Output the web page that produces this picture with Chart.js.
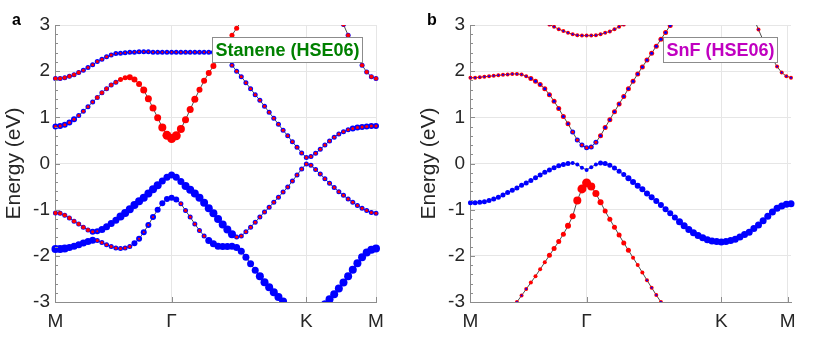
<!DOCTYPE html>
<html lang="en">
<head>
<meta charset="UTF-8">
<title>Stanene / SnF band structures (HSE06)</title>
<script src="https://cdn.jsdelivr.net/npm/chart.js"></script>
<style>
  body { margin: 0; background: #fff; }
  #wrap { display: flex; width: 830px; height: 340px; }
  canvas { display: block; }
</style>
</head>
<body>
<div id="wrap">
  <canvas id="panelA" width="415" height="340"></canvas>
  <canvas id="panelB" width="415" height="340"></canvas>
</div>
<script>
// k-path: 70 points, M(0) - Gamma(25) - K(54) - M(69)
const kLabels = ["M", "Γ", "K", "M"];
const kTicksA = [0, 25, 54, 69];
const kTicksB = [0, 25, 54, 68.3];

// ---- panel a: Stanene, band energies (eV) ----
const aBand1 = [
  0.80, 0.81, 0.84, 0.89, 0.96, 1.04, 1.13, 1.23, 1.33, 1.43,
  1.53, 1.62, 1.70, 1.76, 1.82, 1.86, 1.87, 1.82, 1.72, 1.59,
  1.40, 1.20, 0.99, 0.78, 0.61, 0.54, 0.60, 0.75, 0.95, 1.17,
  1.39, 1.60, 1.79, 1.96, 2.11, 2.27, 2.38, 2.26, 2.13, 2.00,
  1.88, 1.75, 1.62, 1.49, 1.37, 1.24, 1.11, 0.98, 0.85, 0.72,
  0.60, 0.47, 0.35, 0.23, 0.13, 0.15, 0.22, 0.31, 0.40, 0.49,
  0.57, 0.64, 0.69, 0.73, 0.76, 0.78, 0.79, 0.80, 0.81, 0.81
];
const aBand2 = [
  1.84, 1.84, 1.86, 1.89, 1.92, 1.97, 2.02, 2.08, 2.14, 2.21,
  2.26, 2.31, 2.35, 2.38, 2.39, 2.40, 2.41, 2.41, 2.42, 2.42,
  2.42, 2.41, 2.41, 2.41, 2.41, 2.41, 2.41, 2.41, 2.41, 2.41,
  2.41, 2.41, 2.41, 2.41, 2.41, 2.40, 2.45, 2.62, 2.78, 2.93,
  3.08, 3.22, null, null, null, null, null, null, null, null,
  null, null, null, null, null, null, null, null, null, null,
  null, null, null, null, null, null, null, null, null, null
];
const aBand3 = [
  null, null, null, null, null, null, null, null, null, null,
  null, null, null, null, null, null, null, null, null, null,
  null, null, null, null, null, null, null, null, null, null,
  null, null, null, null, null, null, null, null, null, null,
  null, null, null, null, null, null, null, null, null, null,
  null, null, null, null, null, null, null, null, null, null,
  null, 3.22, 3.01, 2.78, 2.55, 2.33, 2.13, 1.98, 1.88, 1.84
];
const aBand4 = [
  -1.07, -1.08, -1.12, -1.18, -1.25, -1.31, -1.38, -1.44, -1.48, -1.47,
  -1.43, -1.37, -1.30, -1.23, -1.15, -1.07, -0.99, -0.90, -0.82, -0.74,
  -0.65, -0.56, -0.47, -0.38, -0.30, -0.25, -0.30, -0.39, -0.49, -0.57,
  -0.65, -0.74, -0.85, -0.97, -1.08, -1.20, -1.32, -1.43, -1.53, -1.59,
  -1.57, -1.48, -1.38, -1.27, -1.16, -1.05, -0.95, -0.84, -0.73, -0.62,
  -0.51, -0.38, -0.25, -0.12, -0.01, -0.04, -0.13, -0.23, -0.33, -0.43,
  -0.52, -0.61, -0.69, -0.77, -0.84, -0.91, -0.97, -1.02, -1.06, -1.08
];
const aBand5 = [
  -1.85, -1.85, -1.84, -1.82, -1.79, -1.76, -1.72, -1.69, -1.66, -1.67,
  -1.71, -1.76, -1.80, -1.83, -1.84, -1.83, -1.80, -1.73, -1.63, -1.49,
  -1.33, -1.16, -1.00, -0.86, -0.77, -0.74, -0.78, -0.87, -1.02, -1.16,
  -1.31, -1.45, -1.57, -1.67, -1.74, -1.79, -1.80, -1.80, -1.79, -1.82,
  -1.90, -2.03, -2.17, -2.31, -2.44, -2.57, -2.68, -2.79, -2.89, -2.99,
  -3.09, -3.19, null, null, null, null, null, -3.16, -3.05, -2.94,
  -2.83, -2.71, -2.58, -2.44, -2.30, -2.16, -2.03, -1.93, -1.87, -1.84
];
// orbital weights per k-point (0-9): red = s-like, blue = p-like
const aBand1Red  = "3333333334" + "4444556667" + "7778999877" + "7666665333" + "3333333333" + "3333333333" + "3333333333";
const aBand1Blue = "6666655555" + "5555000000" + "0000000000" + "0000005555" + "5555555555" + "5555555555" + "5555666666";
const aBand2Red  = "4444443333" + "3332222222" + "2222222222" + "2222225555" + "5500000000" + "0000000000" + "0000000000";
const aBand2Blue = "5555555555" + "5555555555" + "5555555555" + "5555550000" + "0000000000" + "0000000000" + "0000000000";
const aBand3Red  = "0000000000" + "0000000000" + "0000000000" + "0000000000" + "0000000000" + "0000000000" + "0444444444";
const aBand3Blue = "0000000000" + "0000000000" + "0000000000" + "0000000000" + "0000000000" + "0000000000" + "0555555555";
const aBand4Red  = "4444444432" + "0000000000" + "0000000000" + "0000000003" + "3333333333" + "3333333333" + "3333333333";
const aBand4Blue = "5555555566" + "7777888888" + "8887777788" + "8888888885" + "5555555555" + "5555555555" + "5555555555";
const aBand5Red  = "0000000003" + "3333333022" + "2200000333" + "3330000000" + "0000000000" + "0000000000" + "0000000000";
const aBand5Blue = "8887777775" + "5555555666" + "6666666555" + "5557777777" + "7777888888" + "8800000888" + "8888888888";

// ---- panel b: SnF, band energies (eV) ----
const bBand1 = [
  null, null, null, null, null, null, null, null, null, null,
  null, null, null, null, null, null, 3.07, 3.01, 2.96, 2.91,
  2.87, 2.83, 2.80, 2.78, 2.77, 2.77, 2.77, 2.78, 2.80, 2.83,
  2.86, 2.91, 2.96, 3.01, 3.07, null, null, null, null, null,
  null, null, null, null, null, null, null, null, null, null,
  null, null, null, null, null, null, null, null, null, null,
  null, null, null, null, null, null, null, null, null, null
];
const bBand2 = [
  1.86, 1.86, 1.87, 1.88, 1.89, 1.90, 1.91, 1.92, 1.93, 1.94,
  1.94, 1.93, 1.89, 1.84, 1.78, 1.71, 1.62, 1.49, 1.35, 1.19,
  1.02, 0.86, 0.68, 0.51, 0.40, 0.34, 0.36, 0.46, 0.60, 0.78,
  0.95, 1.12, 1.29, 1.45, 1.62, 1.78, 1.94, 2.09, 2.24, 2.39,
  2.54, 2.69, 2.84, 2.99, 3.14, null, null, null, null, null,
  null, null, null, null, null, null, null, null, null, null,
  null, null, null, null, null, null, null, null, null, null
];
const bBand3 = [
  null, null, null, null, null, null, null, null, null, null,
  null, null, null, null, null, null, null, null, null, null,
  null, null, null, null, null, null, null, null, null, null,
  null, null, null, null, null, null, null, null, null, null,
  null, null, null, null, null, null, null, null, null, null,
  null, null, null, null, null, null, null, null, null, null,
  null, 3.14, 2.90, 2.67, 2.46, 2.27, 2.10, 1.97, 1.89, 1.86
];
const bBand4 = [
  -0.85, -0.85, -0.84, -0.83, -0.80, -0.77, -0.73, -0.68, -0.63, -0.58,
  -0.53, -0.47, -0.42, -0.37, -0.31, -0.25, -0.19, -0.14, -0.09, -0.05,
  -0.02, 0.00, 0.01, -0.02, -0.09, -0.14, -0.08, -0.02, 0.01, 0.00,
  -0.04, -0.10, -0.17, -0.24, -0.32, -0.40, -0.48, -0.56, -0.65, -0.73,
  -0.81, -0.90, -0.99, -1.08, -1.17, -1.26, -1.35, -1.43, -1.50, -1.56,
  -1.61, -1.65, -1.68, -1.69, -1.70, -1.69, -1.67, -1.64, -1.59, -1.54,
  -1.49, -1.41, -1.33, -1.24, -1.14, -1.05, -0.97, -0.92, -0.88, -0.87
];
const bBand5 = [
  null, null, null, null, null, null, null, null, null, -3.15,
  -3.00, -2.86, -2.72, -2.58, -2.44, -2.29, -2.14, -1.99, -1.84, -1.69,
  -1.53, -1.35, -1.14, -0.80, -0.55, -0.42, -0.50, -0.65, -0.84, -1.03,
  -1.21, -1.38, -1.55, -1.72, -1.88, -2.04, -2.20, -2.36, -2.53, -2.69,
  -2.85, -3.00, -3.16, null, null, null, null, null, null, null,
  null, null, null, null, null, null, null, null, null, null,
  null, null, null, null, null, null, null, null, null, null
];
const bBand1Red  = "0000000000" + "0000004444" + "4444444444" + "4444400000" + "0000000000" + "0000000000" + "0000000000";
const bBand1Blue = "0000000000" + "0000002222" + "2222222222" + "2222200000" + "0000000000" + "0000000000" + "0000000000";
const bBand2Red  = "4444444444" + "4445555555" + "5533333355" + "5555555555" + "5555500000" + "0000000000" + "0000000000";
const bBand2Blue = "2222222222" + "2223333333" + "3355555533" + "3333333333" + "3333300000" + "0000000000" + "0000000000";
const bBand3Red  = "0000000000" + "0000000000" + "0000000000" + "0000000000" + "0000000000" + "0000000000" + "0444444444";
const bBand3Blue = "0000000000" + "0000000000" + "0000000000" + "0000000000" + "0000000000" + "0000000000" + "0222222222";
const bBand4Red  = "0000000000" + "0000000000" + "0000000000" + "0000000000" + "0000000000" + "0000000000" + "0000000000";
const bBand4Blue = "5555555555" + "5555555555" + "5544444455" + "5555666666" + "6666677777" + "7777777777" + "7777777777";
const bBand5Red  = "0000000004" + "4444444555" + "5668998765" + "5555544444" + "4440000000" + "0000000000" + "0000000000";
const bBand5Blue = "0000000002" + "2220000000" + "0000000000" + "0000000022" + "2220000000" + "0000000000" + "0000000000";

const RED = "#ff0000";
const BLUE = "#0000ff";
const AXIS = "#8c8c8c";
const GRID = "#e6e6e6";
const TEXT = "#262626";
const FONT = "'Liberation Sans', Arial, Helvetica, sans-serif";
Chart.defaults.font.family = FONT;

const isWhole = v => Math.abs(v - Math.round(v)) < 1e-6;
const clipBox = { left: 6, right: 6, top: 0, bottom: 0 };

// one band -> black line + two dot layers (bigger weight underneath)
function bandDatasets(values, redW, blueW) {
  const pts = values.map((v, i) => ({ x: i, y: v }));
  const outerR = [], outerC = [], innerR = [], innerC = [];
  values.forEach((v, i) => {
    const r = Number(redW[i]) * 0.5;
    const b = Number(blueW[i]) * 0.5;
    if (r > b) {
      outerR.push(r); outerC.push(RED); innerR.push(b); innerC.push(BLUE);
    } else {
      outerR.push(b); outerC.push(BLUE); innerR.push(r); innerC.push(RED);
    }
  });
  return [
    { data: pts, showLine: true, borderColor: "rgba(35,35,35,0.9)", borderWidth: 0.9,
      pointRadius: 0, order: 3, clip: clipBox },
    { data: pts, pointRadius: outerR, pointHoverRadius: outerR, pointBackgroundColor: outerC,
      pointBorderWidth: 0, order: 2, clip: clipBox },
    { data: pts, pointRadius: innerR, pointHoverRadius: innerR, pointBackgroundColor: innerC,
      pointBorderWidth: 0, order: 1, clip: clipBox }
  ];
}

const panelDecor = {
  id: "panelDecor",
  afterDatasetsDraw(chart, args, opts) {
    const { ctx, chartArea: a, scales } = chart;
    ctx.save();
    ctx.strokeStyle = AXIS;
    ctx.lineWidth = 1;
    // inward ticks
    scales.y.ticks.forEach(t => {
      const y = Math.round(scales.y.getPixelForValue(t.value)) + 0.5;
      const len = isWhole(t.value) ? 5 : 3;
      ctx.beginPath();
      ctx.moveTo(a.left, y);
      ctx.lineTo(a.left + len, y);
      ctx.stroke();
    });
    scales.x.ticks.forEach(t => {
      const x = Math.round(scales.x.getPixelForValue(t.value)) + 0.5;
      ctx.beginPath();
      ctx.moveTo(x, a.bottom);
      ctx.lineTo(x, a.bottom - 5);
      ctx.stroke();
    });
    // label box
    ctx.font = "bold 18px " + FONT;
    const w = Math.round(ctx.measureText(opts.label).width + 6);
    const h = 25;
    const x0 = opts.boxRight - w + 0.5;
    const y0 = 37.5;
    ctx.fillStyle = "#fff";
    ctx.fillRect(x0, y0, w, h);
    ctx.strokeStyle = AXIS;
    ctx.strokeRect(x0, y0, w, h);
    ctx.fillStyle = opts.color;
    ctx.textAlign = "center";
    ctx.textBaseline = "middle";
    ctx.fillText(opts.label, x0 + w / 2, y0 + h / 2 + 1);
    // panel letter
    ctx.font = "bold 16px " + FONT;
    ctx.fillStyle = "#000";
    ctx.textAlign = "left";
    ctx.textBaseline = "alphabetic";
    ctx.fillText(opts.letter, 12, 25);
    ctx.restore();
  }
};

function makePanel(id, bands, kTicks, decor) {
  const datasets = bands.flatMap(b => bandDatasets(b[0], b[1], b[2]));
  return new Chart(document.getElementById(id), {
    type: "scatter",
    data: { datasets },
    options: {
      responsive: false,
      animation: false,
      events: [],
      layout: { padding: { top: 25, right: 39, left: 0, bottom: 0 } },
      plugins: {
        legend: { display: false },
        tooltip: { enabled: false },
        panelDecor: decor
      },
      scales: {
        x: {
          type: "linear",
          min: -0.1,
          max: 69,
          afterBuildTicks: s => { s.ticks = kTicks.map(v => ({ value: v })); },
          afterFit: s => { s.height = 38; },
          ticks: {
            callback: (v, i) => kLabels[i],
            autoSkip: false,
            maxRotation: 0,
            padding: 8,
            color: TEXT,
            font: { size: 19 }
          },
          grid: { color: GRID, drawTicks: false },
          border: { color: AXIS }
        },
        y: {
          min: -3,
          max: 3,
          afterFit: s => { s.width = 55; },
          ticks: {
            stepSize: 0.2,
            autoSkip: false,
            padding: 5,
            color: TEXT,
            font: { size: 19 },
            callback: v => isWhole(v) ? String(Math.round(v)) : ""
          },
          grid: {
            color: c => isWhole(c.tick.value) ? GRID : "rgba(0,0,0,0)",
            drawTicks: false
          },
          border: { color: AXIS },
          title: {
            display: true,
            text: "Energy (eV)",
            color: TEXT,
            font: { size: 21 },
            padding: { top: 2, bottom: 0 }
          }
        }
      }
    },
    plugins: [panelDecor]
  });
}

makePanel("panelA", [
  [aBand1, aBand1Red, aBand1Blue],
  [aBand2, aBand2Red, aBand2Blue],
  [aBand3, aBand3Red, aBand3Blue],
  [aBand4, aBand4Red, aBand4Blue],
  [aBand5, aBand5Red, aBand5Blue]
], kTicksA, { label: "Stanene (HSE06)", color: "#008000", boxRight: 362, letter: "a" });

makePanel("panelB", [
  [bBand1, bBand1Red, bBand1Blue],
  [bBand2, bBand2Red, bBand2Blue],
  [bBand3, bBand3Red, bBand3Blue],
  [bBand4, bBand4Red, bBand4Blue],
  [bBand5, bBand5Red, bBand5Blue]
], kTicksB, { label: "SnF (HSE06)", color: "#c000c0", boxRight: 362, letter: "b" });
</script>
</body>
</html>
